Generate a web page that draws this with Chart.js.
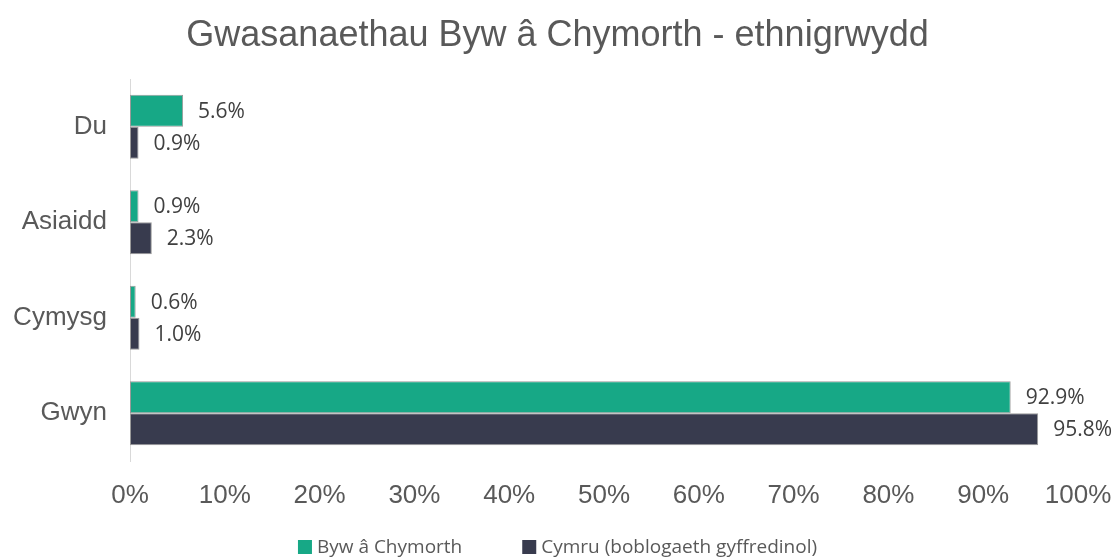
<!DOCTYPE html>
<html><head><meta charset="utf-8">
<script src="https://cdn.jsdelivr.net/npm/chart.js@4/dist/chart.umd.min.js"></script>
<style>html,body{margin:0;padding:0;background:#fff}#wrap{width:1115px;height:560px}</style>
</head><body><div id="wrap"><canvas id="c" width="1115" height="560"></canvas></div>
<script>
const titleText = 'Gwasanaethau Byw â Chymorth - ethnigrwydd';
const categories = ['Du', 'Asiaidd', 'Cymysg', 'Gwyn'];
const seriesNames = ['Byw â Chymorth', 'Cymru (boblogaeth gyffredinol)'];
const bywAChymorth = [5.6, 0.9, 0.6, 92.9];
const cymru = [0.9, 2.3, 1.0, 95.8];
const xTicks = [0, 10, 20, 30, 40, 50, 60, 70, 80, 90, 100];

const labelPlugin = {
  id: 'barLabels',
  afterDatasetsDraw(chart) {
    const ctx = chart.ctx;
    ctx.save();
    ctx.font = '21px "Open Sans"';
    ctx.fillStyle = '#404040';
    ctx.textBaseline = 'middle';
    ctx.textAlign = 'left';
    chart.data.datasets.forEach((ds, i) => {
      chart.getDatasetMeta(i).data.forEach((el, j) => {
        ctx.fillText(ds.data[j].toFixed(1) + '%', el.x + 15, el.y + 1);
      });
    });
    ctx.restore();
  }
};

const titleLegendPlugin = {
  id: 'titleLegend',
  afterDraw(chart) {
    const ctx = chart.ctx;
    ctx.save();
    // title
    ctx.font = '36px "Liberation Sans", Arial';
    ctx.fillStyle = '#595959';
    ctx.textAlign = 'center';
    ctx.textBaseline = 'middle';
    ctx.fillText(titleText, chart.width / 2, 36);
    // legend
    ctx.font = '19px "Open Sans"';
    ctx.textAlign = 'left';
    const box = 14, gapText = 5, gapItem = 60, yc = 547;
    const items = chart.data.datasets.map(ds => ({ text: ds.label, color: ds.backgroundColor, w: ctx.measureText(ds.label).width }));
    let total = 0;
    items.forEach((it, i) => { total += box + gapText + it.w + (i ? gapItem : 0); });
    let x = (chart.width - total) / 2;
    items.forEach((it, i) => {
      if (i) x += gapItem;
      ctx.fillStyle = it.color;
      ctx.fillRect(x, yc - box / 2, box, box);
      ctx.fillStyle = '#595959';
      ctx.fillText(it.text, x + box + gapText, yc + 1);
      x += box + gapText + it.w;
    });
    ctx.restore();
  }
};

new Chart(document.getElementById('c'), {
  type: 'bar',
  data: {
    labels: categories,
    datasets: [
      { label: seriesNames[0], data: bywAChymorth, backgroundColor: '#17A886', borderColor: '#9a9a9a', borderWidth: 1, borderSkipped: false },
      { label: seriesNames[1], data: cymru, backgroundColor: '#383B4E', borderColor: '#9a9a9a', borderWidth: 1, borderSkipped: false }
    ]
  },
  options: {
    indexAxis: 'y',
    responsive: false,
    animation: false,
    devicePixelRatio: 1,
    layout: { padding: { left: 0, right: 37, top: 79, bottom: 49 } },
    datasets: { bar: { categoryPercentage: 0.67, barPercentage: 1.0 } },
    scales: {
      x: {
        min: 0, max: 100,
        afterBuildTicks(scale) { scale.ticks = xTicks.map(v => ({ value: v })); },
        grid: { display: false },
        border: { display: false },
        ticks: { callback: v => v + '%', color: '#595959', font: { family: '"Liberation Sans", Arial', size: 26 }, padding: 11, maxRotation: 0 },
        afterFit(scale) { scale.height = 50; scale.paddingLeft = 0; scale.paddingRight = 0; }
      },
      y: {
        grid: { display: false },
        border: { display: true, color: '#d9d9d9', width: 1 },
        ticks: { color: '#595959', font: { family: '"Liberation Sans", Arial', size: 26 }, padding: 15 },
        afterFit(scale) { scale.width = 130; scale.paddingTop = 0; scale.paddingBottom = 0; }
      }
    },
    plugins: {
      title: { display: false },
      legend: { display: false },
      tooltip: { enabled: false }
    }
  },
  plugins: [labelPlugin, titleLegendPlugin]
});
</script></body></html>
